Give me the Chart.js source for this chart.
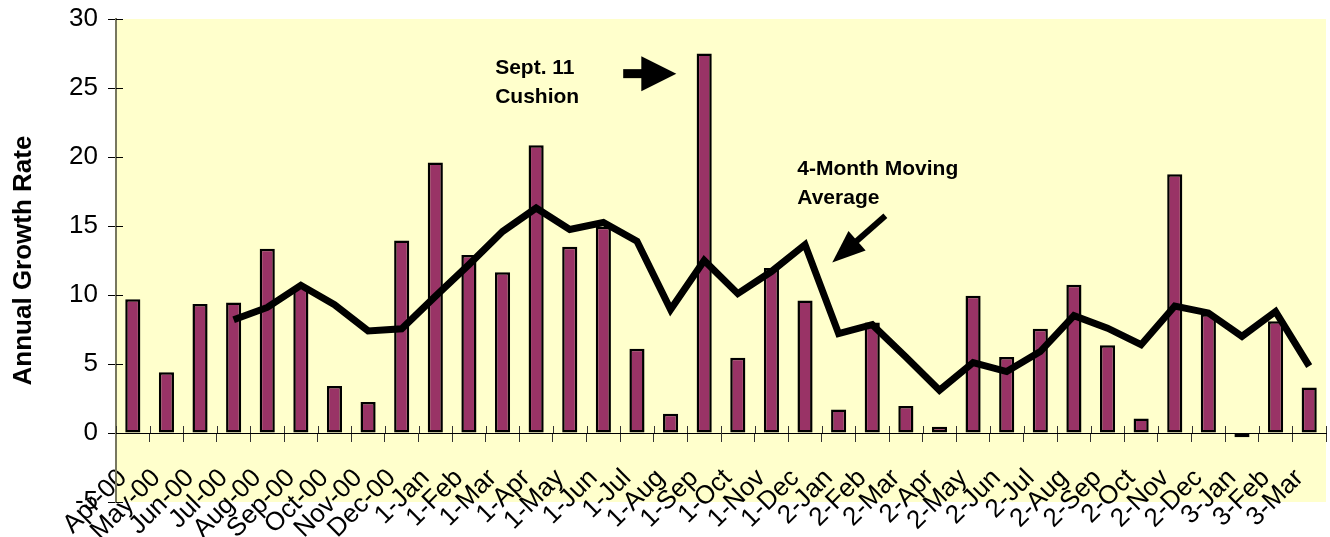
<!DOCTYPE html>
<html>
<head>
<meta charset="utf-8">
<script src="https://cdn.jsdelivr.net/npm/chart.js@4"></script>
<style>
  html, body { margin: 0; padding: 0; background: #fff; }
  #wrap { width: 1330px; height: 537px; }
</style>
</head>
<body>
<div id="wrap"><canvas id="chart" width="1330" height="537"></canvas></div>
<script>
var months = ["Apr-00", "May-00", "Jun-00", "Jul-00", "Aug-00", "Sep-00", "Oct-00", "Nov-00", "Dec-00",
  "1-Jan", "1-Feb", "1-Mar", "1-Apr", "1-May", "1-Jun", "1-Jul", "1-Aug", "1-Sep", "1-Oct", "1-Nov", "1-Dec",
  "2-Jan", "2-Feb", "2-Mar", "2-Apr", "2-May", "2-Jun", "2-Jul", "2-Aug", "2-Sep", "2-Oct", "2-Nov", "2-Dec",
  "3-Jan", "3-Feb", "3-Mar"];

var growth = [9.7, 4.4, 9.35, 9.45, 13.35, 10.6, 3.4, 2.25, 13.95,
  19.6, 12.9, 11.65, 20.85, 13.5, 14.95, 6.1, 1.4, 27.5, 5.45, 11.95, 9.6,
  1.7, 8.0, 1.95, 0.45, 9.95, 5.5, 7.55, 10.75, 6.35, 1.05, 18.75, 8.6,
  -0.3, 8.1, 3.3];

var movingAvg = [null, null, null, 8.2, 9.1, 10.7, 9.3, 7.4, 7.55,
  9.9, 12.2, 14.6, 16.3, 14.75, 15.25, 13.9, 8.95, 12.5, 10.1, 11.7, 13.65,
  7.2, 7.85, 5.5, 3.1, 5.1, 4.45, 5.9, 8.5, 7.6, 6.4, 9.2, 8.7,
  7.0, 8.8, 4.85];

var yTicks = [-5, 0, 5, 10, 15, 20, 25, 30];

// notes placed in data units (category index, value)
var notes = [
  { lines: ["Sept. 11", "Cushion"], x: 10.78, y: 27.2 },
  { lines: ["4-Month Moving", "Average"], x: 19.77, y: 19.85 }
];
var arrows = [
  { from: [14.59, 26.04], to: [16.17, 26.04], kind: "block" },
  { from: [22.39, 15.74], to: [20.81, 12.36], kind: "thin" }
];

var FONT = "'Liberation Sans', Arial, sans-serif";

var plotBg = {
  id: "plotBg",
  beforeDraw: function (chart) {
    var a = chart.chartArea, ctx = chart.ctx;
    ctx.save();
    ctx.fillStyle = "#FFFFCC";
    ctx.fillRect(a.left, a.top, a.right - a.left, a.bottom - a.top);
    ctx.restore();
  }
};

// short inner halves of the tick marks (Excel draws them crossing the axis)
var innerTicks = {
  id: "innerTicks",
  afterDraw: function (chart) {
    var ctx = chart.ctx, xs = chart.scales.x, ys = chart.scales.y;
    var y0 = ys.getPixelForValue(0);
    ctx.save();
    ctx.lineWidth = 1;
    ctx.strokeStyle = "#333";
    for (var i = 0; i <= months.length; i++) {
      var px = Math.round(xs.getPixelForValue(i - 0.5)) + 0.5;
      ctx.beginPath();
      ctx.moveTo(px, y0);
      ctx.lineTo(px, y0 - 7);
      ctx.stroke();
    }
    ctx.strokeStyle = "#000";
    yTicks.forEach(function (v) {
      var py = Math.round(ys.getPixelForValue(v)) + 0.5;
      ctx.beginPath();
      ctx.moveTo(chart.chartArea.left, py);
      ctx.lineTo(chart.chartArea.left + 7, py);
      ctx.stroke();
    });
    ctx.restore();
  }
};

var annotations = {
  id: "annotations",
  afterDraw: function (chart) {
    var ctx = chart.ctx, xs = chart.scales.x, ys = chart.scales.y;
    ctx.save();
    ctx.fillStyle = "#000";
    ctx.font = "bold 21px " + FONT;
    ctx.textAlign = "left";
    ctx.textBaseline = "top";
    notes.forEach(function (n) {
      var px = xs.getPixelForValue(n.x), py = ys.getPixelForValue(n.y);
      n.lines.forEach(function (t, k) { ctx.fillText(t, px, py + k * 29); });
    });
    arrows.forEach(function (a) {
      var x1 = xs.getPixelForValue(a.from[0]), y1 = ys.getPixelForValue(a.from[1]);
      var x2 = xs.getPixelForValue(a.to[0]), y2 = ys.getPixelForValue(a.to[1]);
      var ang = Math.atan2(y2 - y1, x2 - x1);
      var headLen = a.kind === "block" ? 35 : 33;
      var headHalf = a.kind === "block" ? 17.5 : 13;
      var bx = x2 - headLen * Math.cos(ang), by = y2 - headLen * Math.sin(ang);
      ctx.strokeStyle = "#000";
      ctx.lineWidth = a.kind === "block" ? 9 : 6;
      ctx.lineCap = "butt";
      ctx.beginPath();
      ctx.moveTo(x1, y1);
      ctx.lineTo(bx + 2 * Math.cos(ang), by + 2 * Math.sin(ang));
      ctx.stroke();
      ctx.beginPath();
      ctx.moveTo(x2, y2);
      ctx.lineTo(bx - headHalf * Math.sin(ang), by + headHalf * Math.cos(ang));
      ctx.lineTo(bx + headHalf * Math.sin(ang), by - headHalf * Math.cos(ang));
      ctx.closePath();
      ctx.fill();
    });
    ctx.restore();
  }
};

new Chart(document.getElementById("chart"), {
  type: "bar",
  data: {
    labels: months,
    datasets: [
      {
        type: "line",
        data: movingAvg,
        borderColor: "#000",
        borderWidth: 7,
        pointRadius: 0,
        tension: 0,
        spanGaps: false,
        order: 0
      },
      {
        type: "bar",
        data: growth,
        backgroundColor: "#993366",
        borderColor: "#000",
        borderWidth: 2.5,
        borderSkipped: false,
        categoryPercentage: 1,
        barPercentage: 0.45,
        order: 1
      }
    ]
  },
  options: {
    responsive: false,
    animation: false,
    layout: { padding: { left: 0, right: 4, top: 19, bottom: 35 } },
    plugins: {
      legend: { display: false },
      tooltip: { enabled: false }
    },
    scales: {
      x: {
        position: { y: 0 },
        offset: true,
        afterFit: function (scale) { scale.paddingLeft = 0; scale.paddingRight = 0; },
        grid: {
          display: true,
          drawOnChartArea: false,
          offset: true,
          tickLength: 8,
          color: "#333"
        },
        border: { display: true, color: "#000", width: 1 },
        ticks: {
          autoSkip: false,
          maxRotation: 45,
          minRotation: 45,
          padding: 22,
          labelOffset: -10,
          color: "#000",
          font: { family: FONT, size: 26 }
        }
      },
      y: {
        min: -5,
        max: 30,
        afterBuildTicks: function (scale) {
          scale.ticks = yTicks.map(function (v) { return { value: v }; });
        },
        afterFit: function (scale) {
          scale.width = 116;
          scale.paddingTop = 0;
          scale.paddingBottom = 0;
        },
        grid: {
          display: true,
          drawOnChartArea: false,
          tickLength: 8,
          color: "#000"
        },
        border: { display: true, color: "#77775f", width: 2 },
        ticks: {
          padding: 10,
          color: "#000",
          font: { family: FONT, size: 26 }
        },
        title: {
          display: true,
          text: "Annual Growth Rate",
          color: "#000",
          padding: { top: 8, bottom: 0 },
          font: { family: FONT, size: 26, weight: "bold" }
        }
      }
    }
  },
  plugins: [plotBg, innerTicks, annotations]
});
</script>
</body>
</html>
